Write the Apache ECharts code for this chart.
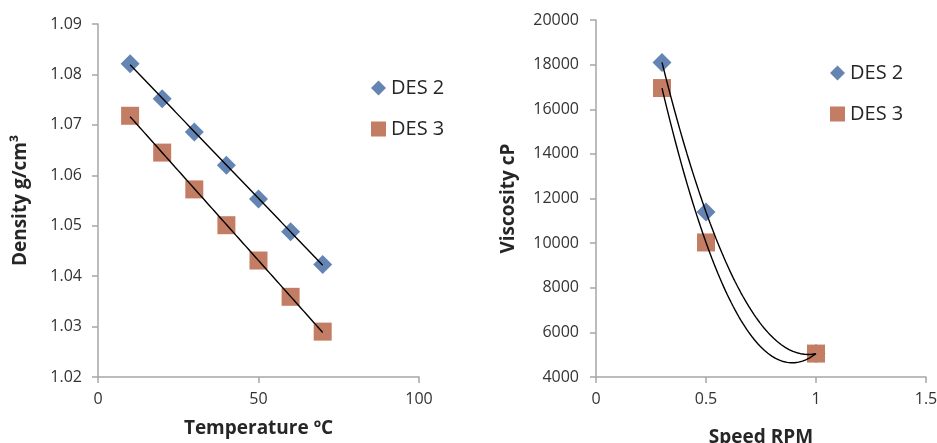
<!DOCTYPE html>
<html>
<head>
<meta charset="utf-8">
<script src="https://cdn.jsdelivr.net/npm/echarts@6/dist/echarts.min.js"></script>
<style>
  html, body { margin: 0; padding: 0; background: #fff; }
  #chart { width: 937px; height: 443px; }
</style>
</head>
<body>
<div id="chart"></div>
<script>
// density vs temperature
const tempC = [10, 20, 30, 40, 50, 60, 70];
const densityDes2 = [1.0821, 1.0752, 1.0686, 1.0620, 1.0553, 1.0488, 1.0423];
const densityDes3 = [1.0718, 1.0645, 1.0572, 1.0501, 1.0431, 1.0359, 1.0290];

// viscosity vs speed
const speedRpm = [0.3, 0.5, 1.0];
const viscDes2 = [18100, 11400, 5050];
const viscDes3 = [16950, 10030, 5050];

const seriesNames = ['DES 2', 'DES 3'];
const blue = '#6485B3';
const red = '#C47D65';
const font = '"Open Sans", sans-serif';

// least squares polynomial fit (degree 1 or 2), used for the trendlines
function polyFit(xs, ys, deg) {
  const n = deg + 1;
  const A = [];
  for (let i = 0; i < n; i++) {
    A.push(new Array(n + 1).fill(0));
  }
  xs.forEach((x, k) => {
    for (let i = 0; i < n; i++) {
      for (let j = 0; j < n; j++) A[i][j] += Math.pow(x, i + j);
      A[i][n] += ys[k] * Math.pow(x, i);
    }
  });
  // gauss elimination
  for (let i = 0; i < n; i++) {
    for (let r = i + 1; r < n; r++) {
      const f = A[r][i] / A[i][i];
      for (let c = i; c <= n; c++) A[r][c] -= f * A[i][c];
    }
  }
  const coef = new Array(n).fill(0);
  for (let i = n - 1; i >= 0; i--) {
    let s = A[i][n];
    for (let j = i + 1; j < n; j++) s -= A[i][j] * coef[j];
    coef[i] = s / A[i][i];
  }
  return coef;
}

function trend(xs, ys, deg, steps) {
  const c = polyFit(xs, ys, deg);
  const x0 = xs[0], x1 = xs[xs.length - 1];
  const pts = [];
  for (let i = 0; i <= steps; i++) {
    const x = x0 + (x1 - x0) * i / steps;
    let y = 0;
    c.forEach((ci, p) => { y += ci * Math.pow(x, p); });
    pts.push([x, y]);
  }
  return pts;
}

const zip = (xs, ys) => xs.map((x, i) => [x, ys[i]]);

const axisCommon = {
  splitLine: { show: false },
  axisLine: { show: true, onZero: false, lineStyle: { color: '#A6A6A6', width: 1.5 } },
  axisTick: { show: true, length: 6, lineStyle: { color: '#A6A6A6', width: 1.5 } },
  axisLabel: { color: '#333', fontSize: 16, fontFamily: font },
  nameLocation: 'middle',
  nameTextStyle: { color: '#262626', fontSize: 19, fontWeight: 'bold', fontFamily: font }
};

function scatter(name, x, y, idx, symbol, color, size) {
  return {
    name: name, type: 'scatter', xAxisIndex: idx, yAxisIndex: idx,
    symbol: symbol, symbolSize: size, data: zip(x, y),
    itemStyle: { color: color, opacity: 1 }, z: 2
  };
}

function trendLine(x, y, deg, idx) {
  return {
    type: 'line', xAxisIndex: idx, yAxisIndex: idx,
    data: trend(x, y, deg, 80), showSymbol: false, smooth: false,
    lineStyle: { color: '#000', width: 1.4 }, silent: true, z: 3
  };
}

const legendCommon = {
  orient: 'vertical',
  padding: 0,
  itemWidth: 15, itemHeight: 15, itemGap: 21,
  textStyle: { color: '#262626', fontSize: 20, lineHeight: 15, fontFamily: font },
  data: [
    { name: seriesNames[0], icon: 'diamond' },
    { name: seriesNames[1], icon: 'rect' }
  ]
};

const chart = echarts.init(document.getElementById('chart'));
chart.setOption({
  animation: false,
  backgroundColor: '#fff',
  grid: [
    { left: 98, right: 518, top: 24, bottom: 66, outerBoundsMode: 'none' },
    { left: 596, right: 11, top: 20, bottom: 66, outerBoundsMode: 'none' }
  ],
  legend: [
    Object.assign({ left: 371, top: 78 }, legendCommon),
    Object.assign({ left: 830, top: 63 }, legendCommon)
  ],
  xAxis: [
    Object.assign({}, axisCommon, {
      gridIndex: 0, type: 'value', min: 0, max: 100, interval: 50,
      name: 'Temperature ºC', nameGap: 42,
      axisLabel: Object.assign({}, axisCommon.axisLabel, { margin: 14 })
    }),
    Object.assign({}, axisCommon, {
      gridIndex: 1, type: 'value', min: 0, max: 1.5, interval: 0.5,
      name: 'Speed RPM', nameGap: 51,
      axisLabel: Object.assign({}, axisCommon.axisLabel, { margin: 14 })
    })
  ],
  yAxis: [
    Object.assign({}, axisCommon, {
      gridIndex: 0, type: 'value', min: 1.02, max: 1.09, interval: 0.01,
      name: 'Density g/cm³', nameGap: 68,
      axisLabel: Object.assign({}, axisCommon.axisLabel, {
        margin: 16, formatter: v => v.toFixed(2)
      })
    }),
    Object.assign({}, axisCommon, {
      gridIndex: 1, type: 'value', min: 4000, max: 20000, interval: 2000,
      name: 'Viscosity cP', nameGap: 78,
      axisLabel: Object.assign({}, axisCommon.axisLabel, {
        margin: 17, formatter: v => String(v)
      })
    })
  ],
  series: [
    scatter(seriesNames[0], tempC, densityDes2, 0, 'diamond', blue, 19),
    scatter(seriesNames[1], tempC, densityDes3, 0, 'rect', red, 18),
    trendLine(tempC, densityDes2, 1, 0),
    trendLine(tempC, densityDes3, 1, 0),
    scatter(seriesNames[0], speedRpm, viscDes2, 1, 'diamond', blue, 19),
    scatter(seriesNames[1], speedRpm, viscDes3, 1, 'rect', red, 18),
    trendLine(speedRpm, viscDes2, 2, 1),
    trendLine(speedRpm, viscDes3, 2, 1)
  ]
});
</script>
</body>
</html>
